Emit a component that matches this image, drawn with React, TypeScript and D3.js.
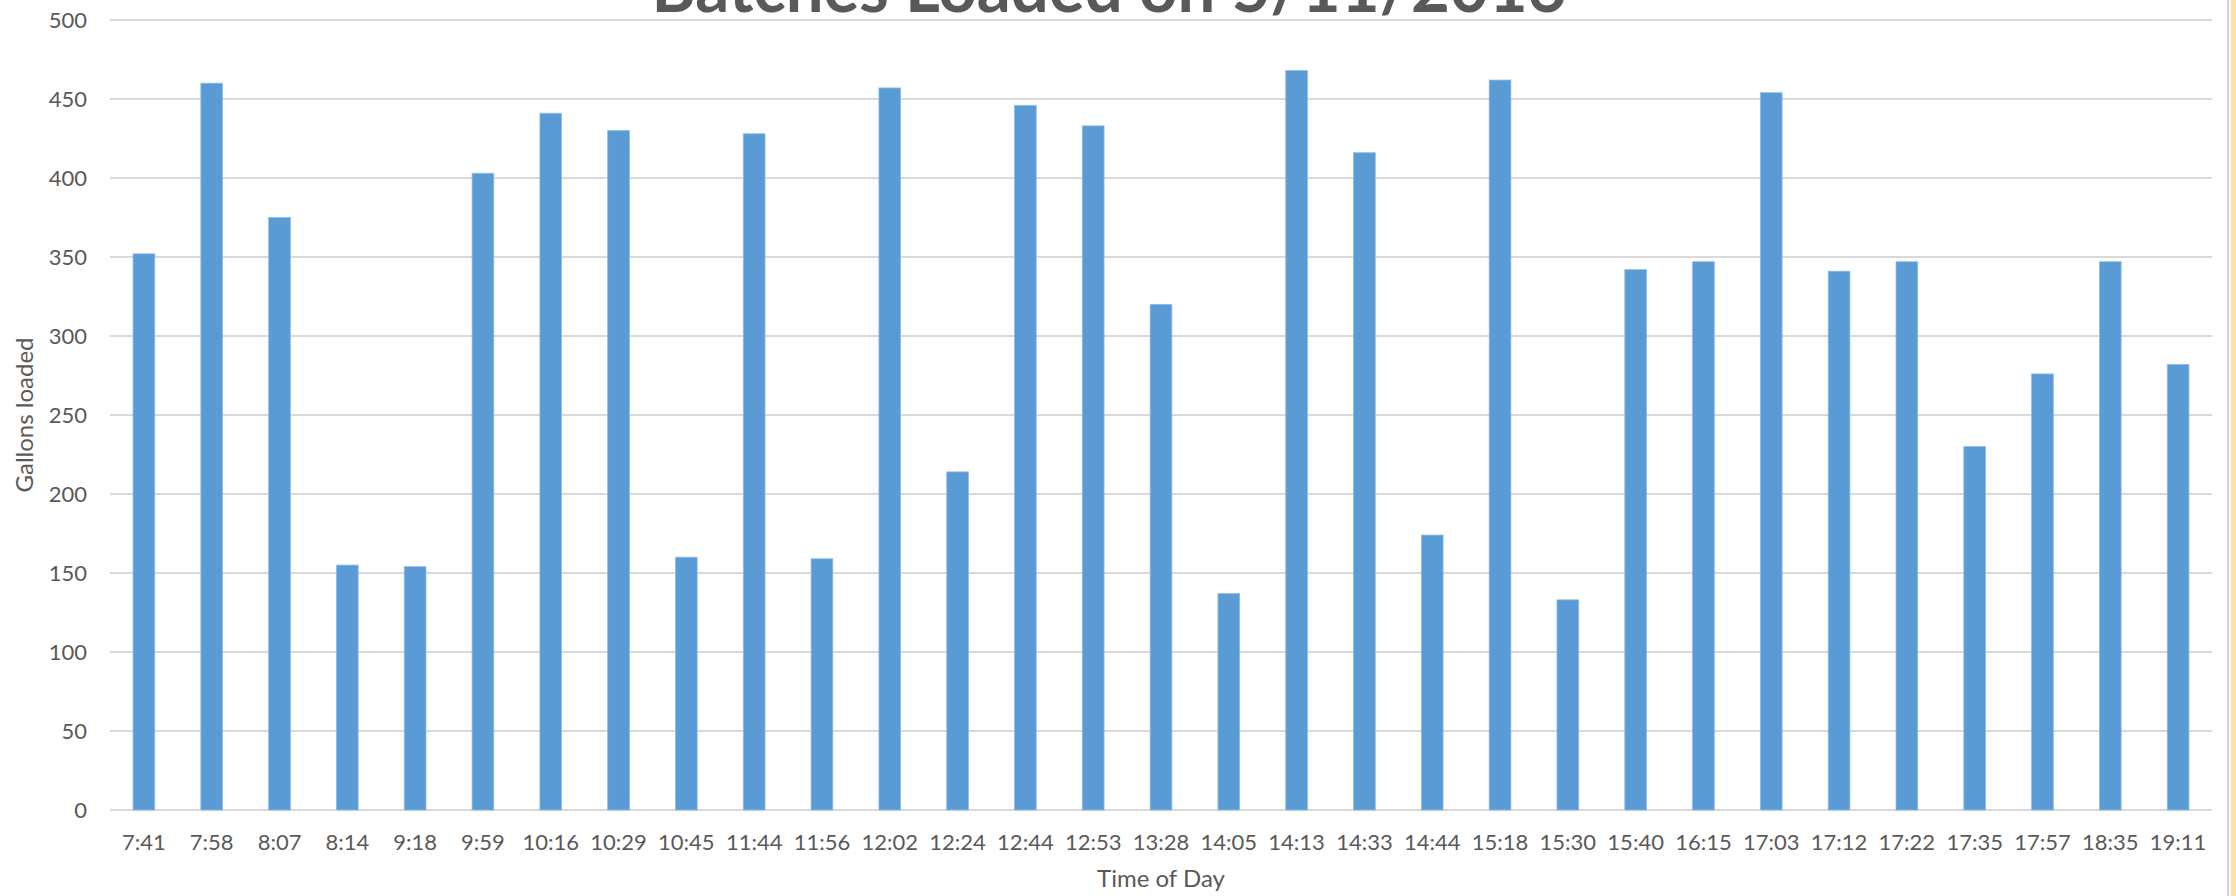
import React from "react";
import * as d3 from "d3";

const categories = [
  "7:41", "7:58", "8:07", "8:14", "9:18", "9:59", "10:16", "10:29", "10:45", "11:44",
  "11:56", "12:02", "12:24", "12:44", "12:53", "13:28", "14:05", "14:13", "14:33", "14:44",
  "15:18", "15:30", "15:40", "16:15", "17:03", "17:12", "17:22", "17:35", "17:57", "18:35", "19:11",
];
const gallons = [
  352, 460, 375, 155, 154, 403, 441, 430, 160, 428,
  159, 457, 214, 446, 433, 320, 137, 468, 416, 174,
  462, 133, 342, 347, 454, 341, 347, 230, 276, 347, 282,
];
const yTicks = [0, 50, 100, 150, 200, 250, 300, 350, 400, 450, 500];
const chartTitle = "Batches Loaded on 5/11/2016";
const xTitle = "Time of Day";
const yTitle = "Gallons loaded";

const W = 2236;
const H = 896;
const M = { left: 110, right: 2212, top: 20, bottom: 810 };
const FONT = "Lato, 'Open Sans', 'Noto Sans', sans-serif";
const TXT = "#595959";

export default function App() {
  const x = d3
    .scaleBand<string>()
    .domain(categories)
    .range([M.left, M.right])
    .paddingInner(0.68)
    .paddingOuter(0.34);
  const y = d3.scaleLinear().domain([0, 500]).range([M.bottom, M.top]);

  return (
    <svg
      width={W}
      height={H}
      style={{ position: "absolute", left: 0, top: 0, background: "#fff" }}
      fontFamily={FONT}
    >
      <rect x={0} y={0} width={W} height={H} fill="#fff" />
      {yTicks.map((t) => (
        <g key={t}>
          <line
            x1={M.left}
            x2={M.right}
            y1={y(t)}
            y2={y(t)}
            stroke="#d9d9d9"
            strokeWidth={2}
          />
          <text
            x={87}
            y={y(t)}
            dy="0.36em"
            textAnchor="end"
            fontSize={22}
            fill={TXT}
          >
            {t}
          </text>
        </g>
      ))}
      {categories.map((c, i) => (
        <rect
          key={c}
          x={x(c)}
          y={y(gallons[i])}
          width={x.bandwidth()}
          height={y(0) - y(gallons[i])}
          fill="#5b9bd5"
          stroke="#8dbbe6"
          strokeWidth={0.8}
        />
      ))}
      {categories.map((c) => (
        <text
          key={"l" + c}
          x={(x(c) as number) + x.bandwidth() / 2}
          y={850}
          textAnchor="middle"
          fontSize={22}
          fill={TXT}
        >
          {c}
        </text>
      ))}
      <text
        x={(M.left + M.right) / 2}
        y={887}
        textAnchor="middle"
        fontSize={24}
        fill={TXT}
      >
        {xTitle}
      </text>
      <text
        transform={`translate(33, ${(M.top + M.bottom) / 2}) rotate(-90)`}
        textAnchor="middle"
        fontSize={24}
        fill={TXT}
      >
        {yTitle}
      </text>
      <text
        x={1109}
        y={12}
        textAnchor="middle"
        fontSize={68}
        fontWeight="bold"
        fill={TXT}
        textLength={915}
        lengthAdjust="spacingAndGlyphs"
      >
        {chartTitle}
      </text>
      <line x1={2228} x2={2228} y1={0} y2={H} stroke="#d4d4d4" strokeWidth={2} />
      <rect x={2231} y={0} width={5} height={H} fill="#fbe2a6" />
    </svg>
  );
}
